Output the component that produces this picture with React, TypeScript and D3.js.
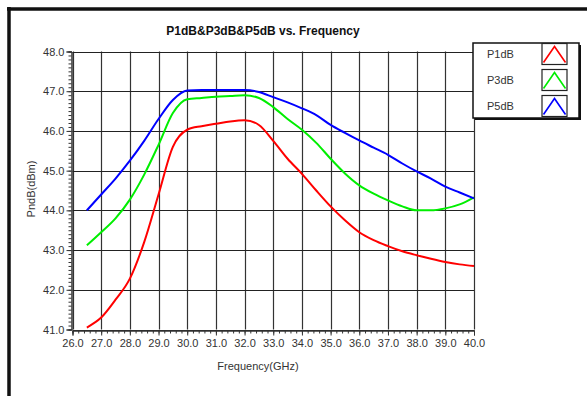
import React, { useEffect, useRef } from "react";
import * as d3 from "d3";

const freqs = [26.5, 27, 27.5, 28, 28.5, 29, 29.5, 30, 30.5, 31, 31.5, 32, 32.5, 33, 33.5, 34, 34.5, 35, 35.5, 36, 36.5, 37, 37.5, 38, 38.5, 39, 39.5, 40];
const p1dB = [41.05, 41.3, 41.75, 42.28, 43.2, 44.4, 45.6, 46.03, 46.12, 46.18, 46.24, 46.27, 46.15, 45.75, 45.3, 44.92, 44.5, 44.1, 43.75, 43.45, 43.25, 43.1, 42.97, 42.87, 42.78, 42.7, 42.64, 42.6];
const p3dB = [43.12, 43.45, 43.8, 44.27, 44.9, 45.65, 46.45, 46.8, 46.83, 46.86, 46.88, 46.9, 46.83, 46.6, 46.3, 46.03, 45.7, 45.3, 44.93, 44.63, 44.42, 44.25, 44.1, 44.0, 44.0, 44.05, 44.15, 44.33];
const p5dB = [44.0, 44.4, 44.8, 45.25, 45.75, 46.3, 46.78, 47.02, 47.03, 47.03, 47.03, 47.03, 46.98, 46.85, 46.72, 46.57, 46.4, 46.15, 45.95, 45.76, 45.58, 45.4, 45.18, 44.98, 44.8, 44.6, 44.45, 44.3];
const seriesNames = ["P1dB", "P3dB", "P5dB"];
const seriesColors = ["#ff0000", "#00ee00", "#0000ff"];
const xTicks = d3.range(26, 40.001, 1);
const yTicks = d3.range(41, 48.001, 1);

const W = 587;
const H = 396;
const FONT = "'Liberation Sans', Arial, sans-serif";

const App: React.FC = () => {
  const svgRef = useRef<SVGSVGElement | null>(null);

  useEffect(() => {
    const svgElement = svgRef.current;
    if (!svgElement) return;
    const svg = d3.select(svgElement);
    svg.selectAll("*").remove();

    const x = d3.scaleLinear().domain([26, 40]).range([72.5, 474]);
    const y = d3.scaleLinear().domain([41, 48]).range([329.5, 51.5]);

    svg.append("rect").attr("width", W).attr("height", H).attr("fill", "white");

    // outer frame (top + left visible)
    svg.append("line").attr("x1", 7).attr("x2", W).attr("y1", 9).attr("y2", 9)
      .attr("stroke", "#111").attr("stroke-width", 3.5);
    svg.append("line").attr("x1", 9).attr("x2", 9).attr("y1", 7).attr("y2", H)
      .attr("stroke", "#111").attr("stroke-width", 3.5);

    // title
    svg.append("text")
      .attr("x", 263).attr("y", 35)
      .attr("text-anchor", "middle")
      .attr("font-family", FONT).attr("font-size", 12).attr("font-weight", "bold")
      .attr("fill", "#111")
      .text("P1dB&P3dB&P5dB vs. Frequency");

    const g = svg.append("g");

    // grid
    g.selectAll(".vgrid").data(xTicks).enter().append("line")
      .attr("x1", (d) => Math.round(x(d)) + 0.5).attr("x2", (d) => Math.round(x(d)) + 0.5)
      .attr("y1", y(48)).attr("y2", y(41))
      .attr("stroke", "#333").attr("stroke-width", 1.2);
    g.selectAll(".hgrid").data(yTicks).enter().append("line")
      .attr("x1", x(26)).attr("x2", x(40))
      .attr("y1", (d) => Math.round(y(d)) + 0.5).attr("y2", (d) => Math.round(y(d)) + 0.5)
      .attr("stroke", "#222").attr("stroke-width", 1.2);

    // axes
    const xAxis = d3.axisBottom(x).tickValues(xTicks).tickSize(5).tickPadding(4)
      .tickFormat(d3.format(".1f"));
    const xMinor = d3.axisBottom(x).tickValues(d3.range(26, 40.001, 0.2)).tickSize(3).tickFormat(() => "");
    const yAxis = d3.axisLeft(y).tickValues(yTicks).tickSize(5).tickPadding(2)
      .tickFormat(d3.format(".1f"));
    const yMinor = d3.axisLeft(y).tickValues(d3.range(41, 48.001, 0.1)).tickSize(3).tickFormat(() => "");

    const styleAxis = (sel: d3.Selection<SVGGElement, unknown, null, undefined>) => {
      sel.selectAll(".domain").attr("stroke", "#333");
      sel.selectAll(".tick line").attr("stroke", "#333");
      sel.selectAll(".tick text").attr("fill", "#333").attr("font-size", 11).attr("font-family", FONT);
    };

    g.append("g").attr("transform", `translate(0,${y(41) + 1})`).call(xMinor).call(styleAxis);
    g.append("g").attr("transform", `translate(0,${y(41) + 1})`).call(xAxis).call(styleAxis);
    g.append("g").attr("transform", `translate(${x(26) - 1},0)`).call(yMinor).call(styleAxis);
    g.append("g").attr("transform", `translate(${x(26) - 1},0)`).call(yAxis).call(styleAxis);

    svg.append("text")
      .attr("x", 258).attr("y", 370)
      .attr("text-anchor", "middle")
      .attr("font-family", FONT).attr("font-size", 11).attr("fill", "#333")
      .text("Frequency(GHz)");
    svg.append("text")
      .attr("transform", `translate(35,189) rotate(-90)`)
      .attr("text-anchor", "middle")
      .attr("font-family", FONT).attr("font-size", 11).attr("fill", "#333")
      .text("PndB(dBm)");

    // curves
    const allSeries = [p1dB, p3dB, p5dB];
    const line = d3.line<number>()
      .x((_, i) => x(freqs[i]))
      .y((d) => y(d))
      .curve(d3.curveMonotoneX);
    allSeries.forEach((s, i) => {
      g.append("path")
        .datum(s)
        .attr("d", line)
        .attr("fill", "none")
        .attr("stroke", seriesColors[i])
        .attr("stroke-width", 2);
    });

    // legend
    const lg = svg.append("g");
    lg.append("rect").attr("x", 475).attr("y", 45).attr("width", 106).attr("height", 75).attr("fill", "#111");
    lg.append("rect").attr("x", 473).attr("y", 43).attr("width", 106).attr("height", 75)
      .attr("fill", "white").attr("stroke", "#111").attr("stroke-width", 1.5);
    seriesNames.forEach((name, i) => {
      const top = 43.5 + i * 26;
      lg.append("text")
        .attr("x", 487).attr("y", top + 14)
        .attr("font-family", FONT).attr("font-size", 11).attr("fill", "#333")
        .text(name);
      lg.append("rect")
        .attr("x", 542).attr("y", top).attr("width", 25).attr("height", 21)
        .attr("fill", "white").attr("stroke", "#222").attr("stroke-width", 1.2);
      lg.append("path")
        .attr("d", `M${543.5},${top + 19} L${554.5},${top + 3} L${565.5},${top + 19}`)
        .attr("fill", "none").attr("stroke", seriesColors[i]).attr("stroke-width", 1.6);
    });
  }, []);

  return (
    <div>
      <svg ref={svgRef} width={W} height={H} style={{ position: "absolute", left: 0, top: 0 }}></svg>
    </div>
  );
};

export default App;
